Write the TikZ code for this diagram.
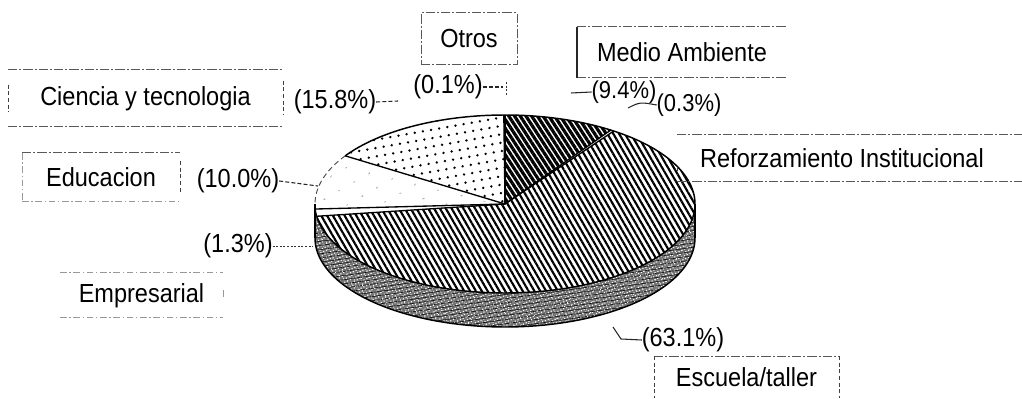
\documentclass[tikz,border=0pt]{standalone}
\usepackage{fontspec}
\setmainfont{Liberation Sans}[FakeStretch=0.9]
\usetikzlibrary{patterns.meta}
\begin{document}
\begin{tikzpicture}[x=0.75pt,y=-0.75pt,
  font=\fontsize{19.6}{22}\selectfont,
  lbl/.style={inner sep=0pt, outer sep=0pt, text=black},
  pct/.style={inner sep=0pt, outer sep=0pt, text=black},
  spct/.style={pct, font=\fontsize{18.3}{20}\selectfont},
  boxline/.style={draw=black!65, line width=0.75pt, dash pattern=on 7pt off 1.5pt on 1.5pt off 1.5pt},
  faintline/.style={draw=black!40, line width=0.75pt, dash pattern=on 5pt off 2pt on 1pt off 2pt},
  boxedge/.style={draw=black!75, line width=0.75pt, dash pattern=on 3pt off 2pt},
  lead/.style={draw=black!85, line width=0.8pt, dash pattern=on 3pt off 1.6pt},
  leaddot/.style={draw=black!80, line width=0.7pt, dash pattern=on 1.5pt off 1.2pt},
  leadsolid/.style={draw=black!85, line width=0.8pt},
  rim/.style={draw=black, line width=1.1pt, line join=round},
  sliceedge/.style={draw=black, line width=1.0pt},
]
\fill[white] (0,0) rectangle (1022,399);
\useasboundingbox (0,0) rectangle (1022,399);

\def\cx{505}\def\cy{204}\def\rx{190}\def\ry{89}\def\dep{34}
\coordinate (C) at (\cx,\cy);

% side of the pie
\path[fill=black!55,
  postaction={pattern={Dots[radius=0.6pt,distance=2.3pt,angle=25]}, pattern color=white},
  postaction={pattern={Lines[angle=8,distance=3.1pt,line width=0.4pt]}, pattern color=black},
  postaction={pattern={Dots[radius=0.45pt,distance=3.7pt,angle=-35]}, pattern color=white}]
  plot[domain=180:360,samples=90,variable=\t] ({\cx+\rx*cos(\t)},{\cy-\ry*sin(\t)})
  -- plot[domain=360:180,samples=90,variable=\t] ({\cx+\rx*cos(\t)},{\cy+\dep-\ry*sin(\t)}) -- cycle;

% Escuela/taller 63.1%
\path[fill=white, postaction={pattern={Lines[angle=-60,distance=3.8pt,line width=1.6pt]}, pattern color=black}]
  (C) -- plot[domain=187.92:415.08,samples=150,variable=\t] ({\cx+\rx*cos(\t)},{\cy-\ry*sin(\t)}) -- cycle;
% Medio Ambiente 9.4%
\path[fill=white, postaction={pattern={Lines[angle=-57,distance=3.6pt,line width=2.4pt]}, pattern color=black}]
  (C) -- plot[domain=56.16:90,samples=40,variable=\t] ({\cx+\rx*cos(\t)},{\cy-\ry*sin(\t)}) -- cycle;
% Ciencia y tecnologia 15.8%
\path[fill=white, postaction={pattern={Dots[radius=1pt,distance=6.2pt,angle=10]}, pattern color=black}]
  (C) -- plot[domain=90.36:147.24,samples=50,variable=\t] ({\cx+\rx*cos(\t)},{\cy-\ry*sin(\t)}) -- cycle;
% Educacion 10.0%
\path[fill=white, postaction={pattern={Dots[radius=0.55pt,distance=13pt,angle=30]}, pattern color=black!60}]
  (C) -- plot[domain=147.24:183.24,samples=40,variable=\t] ({\cx+\rx*cos(\t)},{\cy-\ry*sin(\t)}) -- cycle;

% slice boundaries
\foreach \a in {90,90.36,56.16,55.08,187.92,183.24,147.24}
  \draw[sliceedge] (C) -- ({\cx+\rx*cos(\a)},{\cy-\ry*sin(\a)});

% outlines
\draw[rim] plot[domain=187.92:507.24,samples=220,variable=\t] ({\cx+\rx*cos(\t)},{\cy-\ry*sin(\t)});
\draw[draw=black!70, line width=0.7pt, dash pattern=on 4pt off 2.5pt] plot[domain=147.24:183.24,samples=40,variable=\t] ({\cx+\rx*cos(\t)},{\cy-\ry*sin(\t)});
\draw[draw=black, line width=0.8pt] plot[domain=183.24:187.92,samples=10,variable=\t] ({\cx+\rx*cos(\t)},{\cy-\ry*sin(\t)});
\draw[rim] plot[domain=180:360,samples=90,variable=\t] ({\cx+\rx*cos(\t)},{\cy+\dep-\ry*sin(\t)});
\draw[rim] ({\cx-\rx},\cy) -- ({\cx-\rx},{\cy+\dep});
\draw[rim] ({\cx+\rx},\cy) -- ({\cx+\rx},{\cy+\dep});

% category boxes
\node[lbl, minimum width=72pt, minimum height=39pt, boxline] (otros) at (469,39) {Otros};

\node[lbl, minimum width=206.25pt, minimum height=42.75pt] (cien) at (145.5,98.5) {Ciencia y tecnologia};
\draw[boxline] (cien.north west) -- (cien.north east);
\draw[boxline] (cien.south west) -- (cien.south east);
\draw[boxedge, shorten <=11pt, shorten >=11pt] (cien.north west) -- (cien.south west);
\draw[boxedge, shorten <=8pt, shorten >=9pt] (cien.north east) -- (cien.south east);

\node[lbl, minimum width=118.5pt, minimum height=36.75pt] (educ) at (101,177.5) {Educacion};
\draw[boxline] (educ.north west) -- (educ.north east);
\draw[faintline] (educ.south west) -- (educ.south east);
\draw[faintline] (educ.north west) -- (educ.south west);
\draw[boxedge, shorten <=6pt, shorten >=6pt] (educ.north east) -- (educ.south east);

\node[lbl, minimum width=122.25pt, minimum height=33.75pt] (empr) at (141.5,295.5) {Empresarial};
\draw[faintline] (empr.north west) -- (empr.north east);
\draw[faintline] (empr.south west) -- (empr.south east);
\draw[faintline, shorten <=13pt, shorten >=16pt] (empr.north east) -- (empr.south east);

\node[lbl, minimum width=157.5pt, minimum height=38.25pt] (medio) at (682,52.5) {Medio Ambiente};
\draw[boxline] (medio.north west) -- (medio.north east);
\draw[boxline] (medio.south west) -- (medio.south east);
\draw[draw=black!85, line width=0.8pt] (medio.north west) -- (medio.south west);

\node[lbl, minimum width=247.5pt, minimum height=35.25pt] (reforz) at (842,158.5) {Reforzamiento Institucional};
\coordinate (redge) at (1022,0);
\draw[boxline] (reforz.north west) -- (reforz.north west -| redge);
\draw[boxline] (reforz.south west) -- (reforz.south west -| redge);
\draw[boxedge, shorten <=24pt, shorten >=6pt] (reforz.north west) -- (reforz.south west);

\node[lbl, minimum width=138.75pt, minimum height=31.5pt] (escu) at (746.5,377) {Escuela/taller};
\draw[boxline] (escu.north west) -- (escu.north east);
\draw[boxedge] (escu.north west) -- (escu.south west);
\draw[boxedge] (escu.north east) -- (escu.south east);

% percentage labels
\node[pct] (p01) at (448,87) {(0.1\%)};
\node[pct] (p158) at (335,102) {(15.8\%)};
\node[pct] (p100) at (238,181) {(10.0\%)};
\node[pct] (p13) at (238,246) {(1.3\%)};
\node[spct] (p94) at (624,92) {(9.4\%)};
\node[spct] (p03) at (689,105) {(0.3\%)};
\node[pct] (p631) at (683,340) {(63.1\%)};

% leaders
\coordinate (t01) at (503,87);
\coordinate (t01b) at (506,82);
\coordinate (t01c) at (506,96);
\draw[lead] (p01.east) -- (t01);
\draw[leaddot] (t01b) -- (t01c);
\coordinate (t158) at (398,101);
\draw[lead] (p158.east) -- (t158);
\coordinate (t100) at (318,186);
\draw[lead] (p100.east) -- (t100);
\coordinate (t13) at (313,246);
\draw[leaddot] (p13.east) -- (t13);
\coordinate (t94) at (571,93);
\draw[leadsolid] (p94.west) -- (t94);
\coordinate (t03) at (628,108);
\draw[leadsolid] (p03.west) .. controls (640,102) .. (t03);
\coordinate (t631a) at (621,339);
\coordinate (t631) at (613,327);
\draw[leadsolid] (p631.west) -- (t631a) -- (t631);
\end{tikzpicture}
\end{document}
